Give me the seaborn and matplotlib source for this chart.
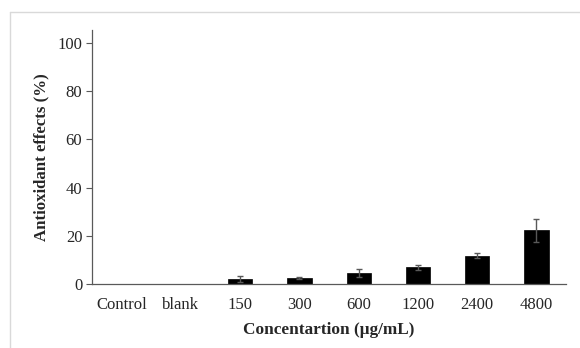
import matplotlib
matplotlib.use("Agg")
import matplotlib.pyplot as plt
import seaborn as sns
import pandas as pd
from matplotlib.lines import Line2D

categories = ["Control", "blank", "150", "300", "600", "1200", "2400", "4800"]
values = [0, 0, 2.1, 2.5, 4.5, 6.9, 11.7, 22.2]
errors = [0, 0, 1.1, 0.4, 1.7, 1.1, 1.1, 4.6]
yticks = [0, 20, 40, 60, 80, 100]

sns.set_style("white")
plt.rcParams['font.family'] = ['Liberation Serif', 'DejaVu Serif']

df = pd.DataFrame({"cat": categories, "val": values})

fig = plt.figure(figsize=(5.8, 3.48), dpi=100)
ax = fig.add_axes([0.1586, 0.1839, 0.8174, 0.7299])

sns.barplot(data=df, x="cat", y="val", order=categories, color="black",
            width=0.41, errorbar=None, ax=ax, edgecolor="black", linewidth=0.5)

xs = [p.get_x() + p.get_width() / 2 for p in ax.patches]
hs = [p.get_height() for p in ax.patches]
ax.errorbar(xs[2:], hs[2:], yerr=errors[2:], fmt="none", ecolor="#595959",
            elinewidth=1.0, capsize=2.3, capthick=1.0)

ax.set_ylim(0, 105.3)
ax.set_xlim(-0.5, len(categories) - 0.5)
ax.set_yticks(yticks)
ax.set_yticklabels([str(t) for t in yticks], fontsize=12)
ax.tick_params(axis="y", which="both", left=True, length=4, width=0.8,
               color="#595959", pad=3)
ax.tick_params(axis="x", bottom=False, labelsize=12, pad=6)

for s in ["top", "right"]:
    ax.spines[s].set_visible(False)
for s in ["left", "bottom"]:
    ax.spines[s].set_color("#595959")
    ax.spines[s].set_linewidth(0.9)

ax.set_xlabel("Concentartion (μg/mL)", fontsize=12.4, fontweight="bold", labelpad=6)
ax.set_ylabel("Antioxidant effects (%)", fontsize=12.1, fontweight="bold", labelpad=6)

# light chart-area border (left and top)
fig.add_artist(Line2D([10 / 580, 10 / 580], [0, 1 - 11.5 / 348],
                      transform=fig.transFigure, color="#d9d9d9", linewidth=1))
fig.add_artist(Line2D([10 / 580, 1], [1 - 11.5 / 348, 1 - 11.5 / 348],
                      transform=fig.transFigure, color="#d9d9d9", linewidth=1))

fig.savefig("out.png", dpi=100)
